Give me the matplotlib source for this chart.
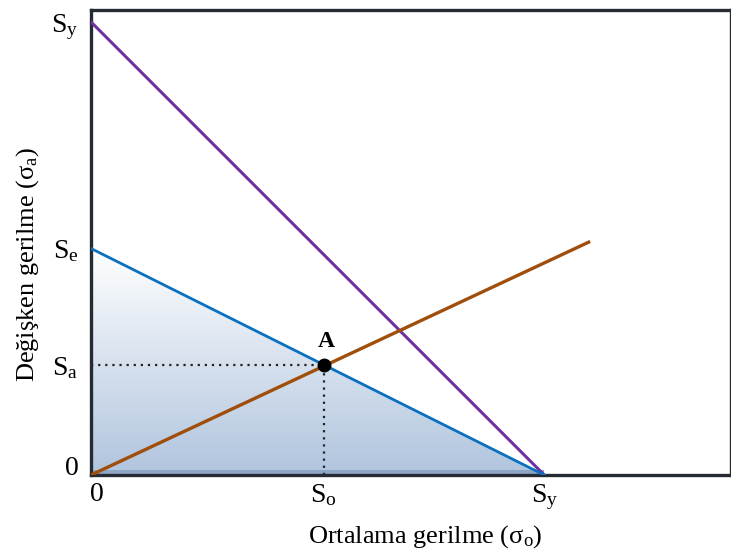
import numpy as np
import matplotlib.pyplot as plt
from matplotlib.patches import Polygon

plt.rcParams['font.family'] = ['Liberation Serif', 'DejaVu Serif']
plt.rcParams['mathtext.fontset'] = 'custom'
plt.rcParams['mathtext.rm'] = 'Liberation Serif'
plt.rcParams['mathtext.it'] = 'Liberation Serif:italic'

# Değerler (Sy = 1 birim)
Sy = 1.0
Se = 0.5
So = 0.513
Sa = Se * (1 - So / Sy)
yuk_x = [0.0, 1.098]          # yük doğrusu
yuk_y = [0.0, 0.514]

x_ticks = [0.013, So, Sy]
x_labels = ['0', r'$\mathrm{S_o}$', r'$\mathrm{S_y}$']
y_ticks = [0.022, Sa, Se, Sy]
y_labels = ['0', r'$\mathrm{S_a}$', r'$\mathrm{S_e}$', r'$\mathrm{S_y}$']

fig = plt.figure(figsize=(7.31, 5.54), dpi=100)
ax = fig.add_axes([0.1245, 0.1426, 0.8755, 0.8394])
ax.set_xlim(0, 1.412)
ax.set_ylim(0, 1.0265)

# Goodman altındaki alan, degrade dolgu
grad = np.linspace(0, 1, 256).reshape(-1, 1)
top_c = np.array([1.0, 1.0, 1.0])
bot_c = np.array([0.69, 0.77, 0.87])
img = top_c * (1 - grad[..., None]) + bot_c * grad[..., None]
im = ax.imshow(img, extent=[0, Sy, 0, Se], origin='upper', aspect='auto', zorder=1)
tri = Polygon([[0, 0], [0, Se], [Sy, 0]], closed=True, facecolor='none', edgecolor='none')
ax.add_patch(tri)
im.set_clip_path(tri)
ax.fill_between([0, Sy], [0, 0], [0.012, 0.012], color='#8ea6c6', zorder=1.5, lw=0)

ax.plot([0, Sy], [Sy, 0], color='#7030a0', lw=2.2, zorder=3)
ax.plot([0, Sy], [Se, 0], color='#0a70c0', lw=2.0, zorder=3)
ax.plot(yuk_x, yuk_y, color='#a04e0c', lw=2.4, zorder=4)

ax.plot([0, So], [Sa, Sa], color='#222222', ls=(0, (1, 2.2)), lw=1.6, zorder=2)
ax.plot([So, So], [0, Sa], color='#222222', ls=(0, (1, 2.2)), lw=1.6, zorder=2)
ax.plot([So], [Sa], 'o', color='black', ms=9, zorder=5)
ax.text(So + 0.006, Sa + 0.028, 'A', fontsize=17, fontweight='bold', ha='center', va='bottom')

ax.set_xticks(x_ticks)
ax.set_xticklabels(x_labels, fontsize=20)
ax.set_yticks(y_ticks)
ax.set_yticklabels(y_labels, fontsize=20)
ax.tick_params(axis='x', length=0, pad=5)
ax.tick_params(axis='y', length=0, pad=9)

for s in ax.spines.values():
    s.set_color('#262b33')
    s.set_linewidth(2.4)

fig.text(425 / 731, 1 - 537 / 554, 'Ortalama gerilme (σ$_\\mathrm{o}$)', fontsize=19,
         ha='center', va='center')
fig.text(28 / 731, 1 - 265 / 554, 'Değişken gerilme (σ$_\\mathrm{a}$)', fontsize=19,
         ha='center', va='center', rotation=90)

fig.savefig('out.png', dpi=100)
